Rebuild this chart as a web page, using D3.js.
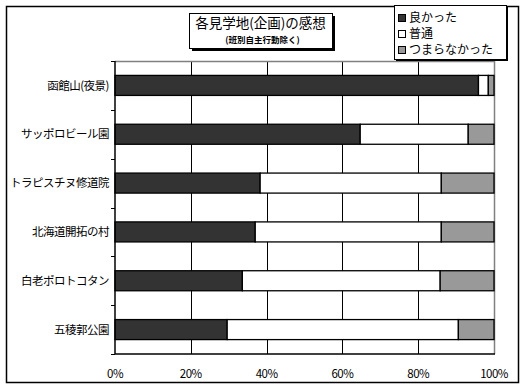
<!DOCTYPE html>
<html>
<head>
<meta charset="utf-8">
<script src="https://cdn.jsdelivr.net/npm/d3@7"></script>
<style>
  body { margin: 0; background: #fff; }
  text { font-family: "Noto Sans CJK JP", sans-serif; }
</style>
</head>
<body>
<div id="chart"></div>
<script>
// data (percent)
const categories = ["函館山(夜景)", "サッポロビール園", "トラピスチヌ修道院", "北海道開拓の村", "白老ポロトコタン", "五稜郭公園"];
const good   = [95.9, 64.7, 38.3, 37.0, 33.6, 29.6];
const normal = [2.6, 28.5, 47.8, 49.1, 52.2, 61.0];
const boring = [1.5, 6.8, 13.9, 13.9, 14.2, 9.4];
const seriesNames = ["良かった", "普通", "つまらなかった"];
const seriesColors = ["#333333", "#ffffff", "#999999"];
const xTicks = [0, 20, 40, 60, 80, 100];

const W = 525, H = 389;
const plot = { left: 115, right: 494, top: 61, bottom: 354 };

const svg = d3.select("#chart").append("svg")
    .attr("width", W)
    .attr("height", H);

// outer chart frame
svg.append("rect")
    .attr("x", 6.5).attr("y", 6.5)
    .attr("width", 512).attr("height", 376)
    .attr("fill", "#fff")
    .attr("stroke", "#000")
    .attr("stroke-width", 1.5);

const x = d3.scaleLinear().domain([0, 100]).range([plot.left, plot.right]);
const y = d3.scaleBand().domain(categories)
    .range([plot.top, plot.bottom])
    .paddingInner(0.59)
    .paddingOuter(0.295);

// build stacked table from the arrays
const table = categories.map((c, i) => ({ cat: c, good: good[i], normal: normal[i], boring: boring[i] }));
const stack = d3.stack().keys(["good", "normal", "boring"])(table);

// grid lines
svg.append("g")
    .selectAll("line")
    .data(xTicks.slice(1, -1))
    .join("line")
    .attr("x1", d => Math.round(x(d)) + 0.5)
    .attr("x2", d => Math.round(x(d)) + 0.5)
    .attr("y1", plot.top)
    .attr("y2", plot.bottom)
    .attr("stroke", "#000")
    .attr("stroke-width", 1);

// top and right plot border (grey)
svg.append("path")
    .attr("d", `M${plot.left},${plot.top + 0.5}H${plot.right + 0.5}V${plot.bottom}`)
    .attr("fill", "none")
    .attr("stroke", "#808080")
    .attr("stroke-width", 1.5);

// bars
svg.append("g")
    .selectAll("g")
    .data(stack)
    .join("g")
    .attr("fill", (d, i) => seriesColors[i])
    .selectAll("rect")
    .data(d => d)
    .join("rect")
    .attr("x", d => x(d[0]))
    .attr("y", d => y(d.data.cat))
    .attr("width", d => x(d[1]) - x(d[0]))
    .attr("height", y.bandwidth())
    .attr("stroke", "#000")
    .attr("stroke-width", 1.3);

// left axis + ticks between categories
const step = y.step();
const bounds = d3.range(categories.length + 1).map(i => plot.top + i * step);
svg.append("line")
    .attr("x1", plot.left).attr("x2", plot.left)
    .attr("y1", plot.top).attr("y2", plot.bottom)
    .attr("stroke", "#000").attr("stroke-width", 1.5);
svg.append("g")
    .selectAll("line")
    .data(bounds)
    .join("line")
    .attr("x1", plot.left - 4).attr("x2", plot.left)
    .attr("y1", d => Math.round(d) + 0.5).attr("y2", d => Math.round(d) + 0.5)
    .attr("stroke", "#000");

// bottom axis
svg.append("line")
    .attr("x1", plot.left).attr("x2", plot.right + 1)
    .attr("y1", plot.bottom).attr("y2", plot.bottom)
    .attr("stroke", "#000").attr("stroke-width", 1.5);

// category labels
svg.append("g")
    .selectAll("text")
    .data(categories)
    .join("text")
    .attr("x", 109)
    .attr("y", d => y(d) + y.bandwidth() / 2)
    .attr("dy", "0.36em")
    .attr("text-anchor", "end")
    .attr("font-size", "11.5px")
    .attr("letter-spacing", "-0.5px")
    .text(d => d);

// x tick labels
svg.append("g")
    .selectAll("text")
    .data(xTicks)
    .join("text")
    .attr("x", d => x(d))
    .attr("y", 378)
    .attr("text-anchor", "middle")
    .attr("font-size", "11.5px")
    .attr("letter-spacing", "-0.5px")
    .text(d => d + "%");

// title box with shadow
const tb = { x: 189, y: 13, w: 143, h: 35 };
svg.append("rect")
    .attr("x", tb.x + 3).attr("y", tb.y + 3)
    .attr("width", tb.w).attr("height", tb.h)
    .attr("fill", "#000");
svg.append("rect")
    .attr("x", tb.x + 0.5).attr("y", tb.y + 0.5)
    .attr("width", tb.w).attr("height", tb.h)
    .attr("fill", "#fff").attr("stroke", "#000");
svg.append("text")
    .attr("x", tb.x + tb.w / 2).attr("y", tb.y + 15)
    .attr("text-anchor", "middle")
    .attr("font-size", "13.5px")
    .text("各見学地(企画)の感想");
svg.append("text")
    .attr("x", tb.x + tb.w / 2 + 2).attr("y", tb.y + 30)
    .attr("text-anchor", "middle")
    .attr("font-size", "8.5px")
    .attr("font-weight", "bold")
    .text("(班別自主行動除く)");

// legend box
const lb = { x: 394, y: 5, w: 112, h: 54 };
svg.append("rect")
    .attr("x", lb.x + 2).attr("y", lb.y + 2)
    .attr("width", lb.w).attr("height", lb.h)
    .attr("fill", "#000");
svg.append("rect")
    .attr("x", lb.x + 0.5).attr("y", lb.y + 0.5)
    .attr("width", lb.w).attr("height", lb.h)
    .attr("fill", "#fff").attr("stroke", "#000");
const legendY = [18, 34, 50];
const leg = svg.append("g")
    .selectAll("g")
    .data(seriesNames)
    .join("g")
    .attr("transform", (d, i) => `translate(${lb.x + 4},${legendY[i]})`);
leg.append("rect")
    .attr("x", 0.5).attr("y", -3.5)
    .attr("width", 7).attr("height", 7)
    .attr("fill", (d, i) => seriesColors[i])
    .attr("stroke", "#000");
leg.append("text")
    .attr("x", 11).attr("y", 0)
    .attr("dy", "0.36em")
    .attr("font-size", "12px")
    .text(d => d);
</script>
</body>
</html>
